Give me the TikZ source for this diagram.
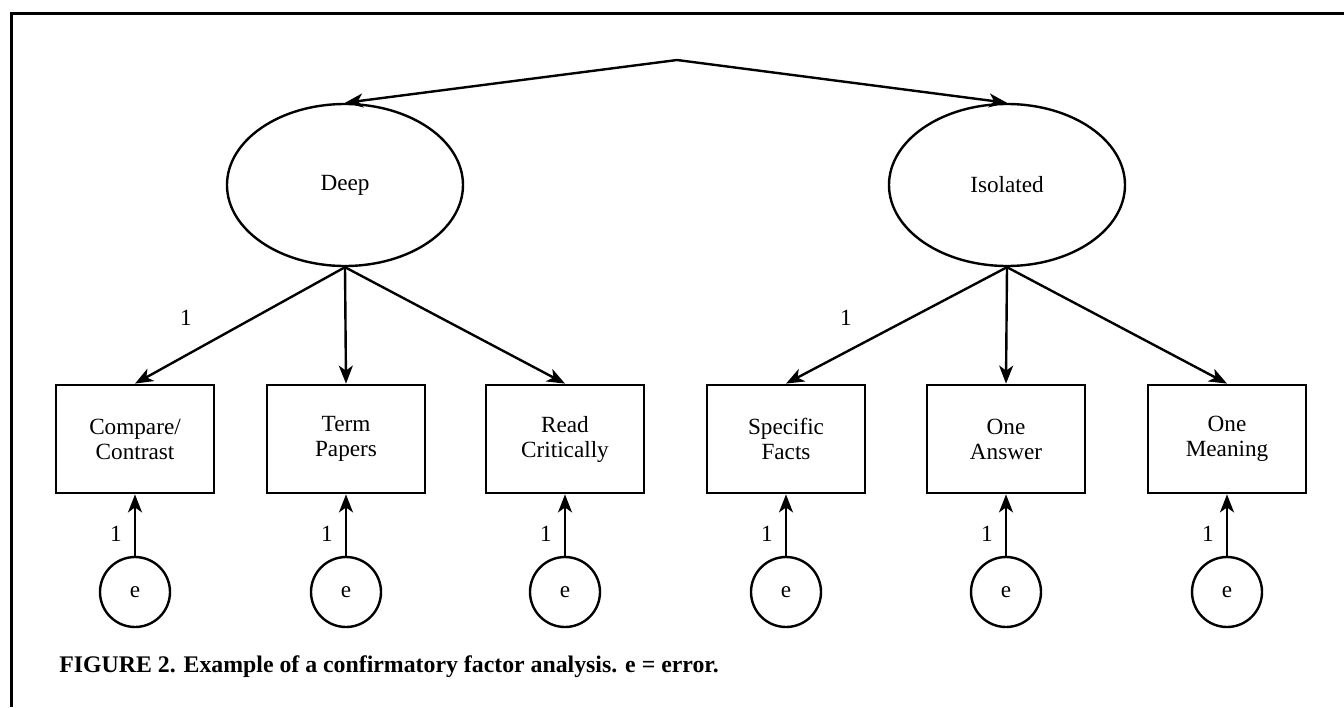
\documentclass[tikz,border=0pt]{standalone}
\usepackage{fontspec}
\setmainfont{Liberation Serif}
\usetikzlibrary{arrows.meta,shapes.geometric}
\begin{document}
\begin{tikzpicture}[x=0.5pt,y=-0.5pt,
  txt/.style={font=\fontsize{11.6}{12.5}\selectfont},
  latent/.style={ellipse,draw,line width=1.2pt,minimum width=118pt,minimum height=81pt,inner sep=0pt,txt},
  obs/.style={rectangle,draw,line width=1.4pt,minimum width=79pt,minimum height=54pt,align=center,inner sep=0pt,txt},
  err/.style={circle,draw,line width=1.2pt,minimum size=35pt,inner sep=0pt,txt},
  arr/.style={line width=1.2pt,-{Stealth[length=9pt,width=7pt,inset=2.5pt]}},
  lbl/.style={inner sep=0pt,txt},
  frame/.style={line width=1.5pt}
]
\useasboundingbox (0,0) rectangle (1344,707);
\draw[frame] (1344,13) -- (11,13) -- (11,707);

\coordinate (apex) at (677,60);
\node[latent] (deep) at (345,185) {Deep};
\node[latent] (iso) at (1007,185) {Isolated};

\node[obs] (b1) at (135,439) {Compare/\\Contrast};
\node[obs] (b2) at (346,439) {Term\\Papers};
\node[obs] (b3) at (565,439) {Read\\Critically};
\node[obs] (b4) at (786,439) {Specific\\Facts};
\node[obs] (b5) at (1006,439) {One\\Answer};
\node[obs] (b6) at (1227,439) {One\\Meaning};

\foreach \i/\x in {1/135,2/346,3/565,4/786,5/1006,6/1227}{
  \node[err] (e\i) at (\x,592) {e};
  \draw[arr] (e\i.north) -- (b\i.south);
  \node[lbl] (l\i) at (\x-19,534) {1};
}

\draw[arr] (apex) -- (deep.north);
\draw[arr] (apex) -- (iso.north);

\draw[arr] (deep.south) -- (b1.north);
\draw[arr] (deep.south) -- (b2.north);
\draw[arr] (deep.south) -- (b3.north);
\draw[arr] (iso.south) -- (b4.north);
\draw[arr] (iso.south) -- (b5.north);
\draw[arr] (iso.south) -- (b6.north);

\node[lbl] (ld) at (186,318) {1};
\node[lbl] (li) at (846,318) {1};

\node[anchor=base west,inner sep=0pt,font=\fontsize{11.9}{14}\selectfont\bfseries] (cap) at (59,672) {FIGURE 2. Example of a confirmatory factor analysis. e = error.};
\end{tikzpicture}
\end{document}
